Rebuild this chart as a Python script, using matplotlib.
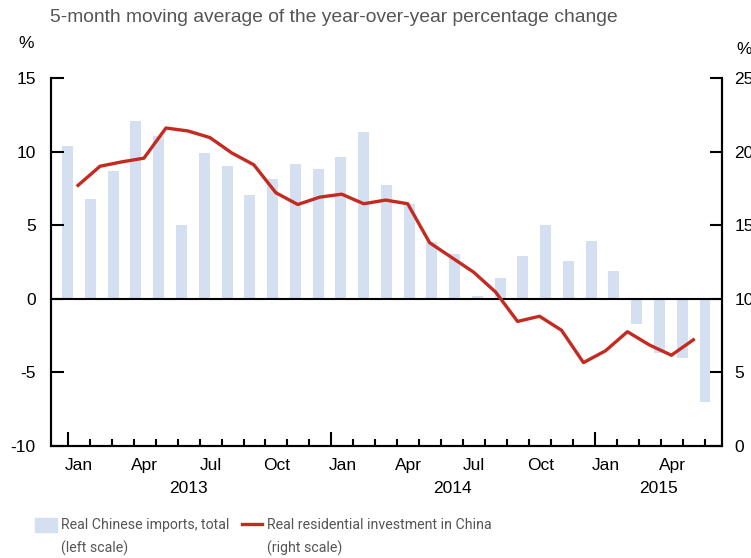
import numpy as np
import matplotlib.pyplot as plt
from matplotlib.patches import Rectangle
from matplotlib.lines import Line2D

plt.rcParams['font.family'] = ['Liberation Sans', 'DejaVu Sans']
plt.rcParams['axes.unicode_minus'] = False

# monthly, Jan 2013 .. Jun 2015
n_months = 30
month_names = ['Jan', 'Apr', 'Jul', 'Oct']
years = ['2013', '2014', '2015']
year_pos = [5.5, 17.5, 26.9]

# Real Chinese imports, total (left scale), 29 bars
imports = [10.35, 6.8, 8.65, 12.1, 11.05, 5.0, 9.9, 9.0, 7.05, 8.1, 9.15, 8.8, 9.6, 11.3,
           7.7, 6.45, 3.85, 3.0, 0.15, 1.4, 2.9, 5.0, 2.55, 3.9, 1.85, -1.75, -3.7, -4.05, -7.05]
# Real residential investment in China (right scale), Jan 2013 .. May 2015
investment = [17.7, 19.0, 19.3, 19.55, 21.6, 21.4, 20.95, 19.9, 19.1, 17.2,
              16.4, 16.9, 17.1, 16.45, 16.7, 16.45, 13.8, 12.8, 11.8, 10.45,
              8.45, 8.8, 7.85, 5.65, 6.45, 7.75, 6.85, 6.15, 7.2]

bar_col = '#d4e0f1'
red = '#c42b20'
grey = '#555555'
narrow = ['Roboto', 'DejaVu Sans']

fig = plt.figure(figsize=(7.51, 5.58), dpi=100)
ax = fig.add_axes([51/751, 1 - 445.7/558, (721.7 - 51)/751, (445.7 - 78)/558])

bar_x = np.linspace(0, n_months - 1, len(imports))
ax.bar(bar_x, imports, width=0.5, color=bar_col, zorder=1)
ax.axhline(0, color='black', lw=1.5, zorder=2)
ax.set_xlim(-0.76, n_months - 1 + 0.76)
ax.set_ylim(-10, 15)
ax.set_yticks(range(-10, 16, 5))

ax2 = ax.twinx()
ax2.plot(np.arange(len(investment)) + 0.47, investment, color=red, lw=2.4, zorder=3)
ax2.set_ylim(0, 25)
ax2.set_yticks(range(0, 26, 5))

for a in (ax, ax2):
    a.spines['top'].set_visible(False)
    for s in ('left', 'right', 'bottom'):
        a.spines[s].set_linewidth(1.5)
    a.tick_params(axis='y', direction='in', length=9, width=1.5, labelsize=12.5)
ax.tick_params(axis='y', pad=11)
ax2.tick_params(axis='y', pad=9)

ax.set_xticks(range(0, n_months, 12))
ax.set_xticks(range(n_months), minor=True)
ax.set_xticklabels([])
ax.tick_params(axis='x', which='major', direction='in', length=10, width=1.5)
ax.tick_params(axis='x', which='minor', direction='in', length=5, width=1.5)

for i in range(0, n_months, 3):
    ax.annotate(month_names[(i // 3) % 4], xy=(i + 0.5, 0), xycoords=('data', 'axes fraction'),
                xytext=(0, -14), textcoords='offset points', ha='center', va='center',
                fontsize=12.5)
for y, p in zip(years, year_pos):
    ax.annotate(y, xy=(p, 0), xycoords=('data', 'axes fraction'),
                xytext=(0, -31), textcoords='offset points', ha='center', va='center',
                fontsize=12.5)

fig.text(50/751, 1 - 18/558, '5-month moving average of the year-over-year percentage change',
         fontsize=13.9, color=grey, va='center', ha='left')
fig.text(18/751, 1 - 43/558, '%', fontsize=12.5, va='center', ha='left')
fig.text(736/751, 1 - 49/558, '%', fontsize=12.5, va='center', ha='left')

# legend
fig.patches.append(Rectangle((35/751, 1 - 532/558), 22/751, 14/558, transform=fig.transFigure,
                             color=bar_col))
fig.lines.append(Line2D([242/751, 262/751], [1 - 524/558] * 2, transform=fig.transFigure,
                        color=red, lw=2.4))
fig.text(61/751, 1 - 525/558, 'Real Chinese imports, total', fontsize=10.2, color=grey,
         va='center', family=narrow)
fig.text(61/751, 1 - 548/558, '(left scale)', fontsize=10.2, color=grey, va='center',
         family=narrow)
fig.text(267/751, 1 - 525/558, 'Real residential investment in China', fontsize=10.2,
         color=grey, va='center', family=narrow)
fig.text(267/751, 1 - 548/558, '(right scale)', fontsize=10.2, color=grey, va='center',
         family=narrow)

fig.savefig('out.png', dpi=100)
